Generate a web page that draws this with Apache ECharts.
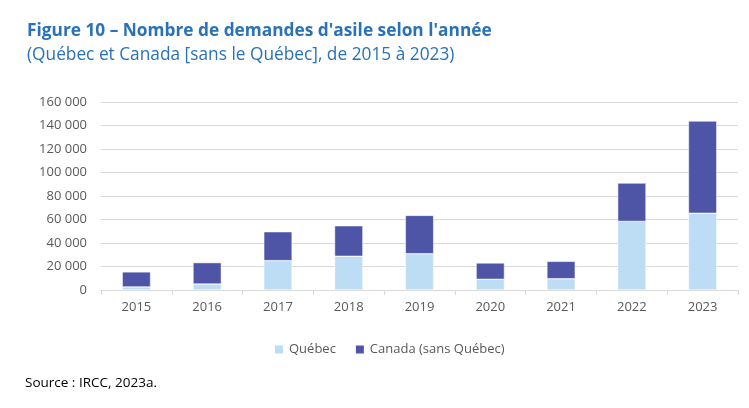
<!DOCTYPE html>
<html><head><meta charset="utf-8">
<script src="https://cdn.jsdelivr.net/npm/echarts@6/dist/echarts.min.js"></script>
<style>html,body{margin:0;padding:0;background:#fff;}#c{width:749px;height:408px;}</style>
</head><body><div id="c"></div>
<script>
const categories = ['2015','2016','2017','2018','2019','2020','2021','2022','2023'];
const quebec = [2600, 5100, 25000, 28700, 30900, 9100, 9600, 58400, 65300];
const canadaSansQuebec = [12800, 18200, 24600, 26000, 32600, 13900, 14800, 32600, 78500];
const yTicks = [0, 20000, 40000, 60000, 80000, 100000, 120000, 140000, 160000];

const fmt = v => String(v).replace(/\B(?=(\d{3})+(?!\d))/g, ' ');
const chart = echarts.init(document.getElementById('c'));
chart.setOption({
  animation: false,
  textStyle: { fontFamily: 'Open Sans' },
  title: [
    { text: "Figure 10 – Nombre de demandes d'asile selon l'année", left: 22, top: 18,
      textStyle: { fontFamily: 'Open Sans', fontSize: 17.3, fontWeight: 'bold', color: '#2A72B8' } },
    { text: "(Québec et Canada [sans le Québec], de 2015 à 2023)", left: 22, top: 42,
      textStyle: { fontFamily: 'Open Sans', fontSize: 17.3, fontWeight: 'normal', color: '#2A72B8' } },
    { text: "Source : IRCC, 2023a.", left: 20, top: 371,
      textStyle: { fontFamily: 'Open Sans', fontSize: 13.5, fontWeight: 'normal', color: '#000' } }
  ],
  legend: {
    left: 268, top: 338, itemWidth: 10, itemHeight: 10, itemGap: 18, icon: 'rect',
    textStyle: { fontFamily: 'Open Sans', fontSize: 13, color: '#595959' },
    data: ['Québec', 'Canada (sans Québec)']
  },
  grid: { left: 101, right: 11, top: 102, bottom: 118 },
  xAxis: {
    type: 'category', data: categories,
    axisLine: { lineStyle: { color: '#D9D9D9', width: 1 } },
    axisTick: { show: true, length: 5, lineStyle: { color: '#D9D9D9' } },
    axisLabel: { color: '#595959', fontSize: 13, margin: 11 }
  },
  yAxis: {
    type: 'value', min: 0, max: 160000, interval: 20000,
    axisLine: { show: false }, axisTick: { show: false },
    splitLine: { lineStyle: { color: '#D9D9D9', width: 1 } },
    axisLabel: { color: '#595959', fontSize: 13, margin: 14, formatter: v => fmt(v) }
  },
  series: [
    { name: 'Québec', type: 'bar', stack: 't', data: quebec, barWidth: '40%',
      itemStyle: { color: '#BDDDF5', borderColor: '#fff', borderWidth: 0.5 } },
    { name: 'Canada (sans Québec)', type: 'bar', stack: 't', data: canadaSansQuebec, barWidth: '40%',
      itemStyle: { color: '#4F55A6', borderColor: '#fff', borderWidth: 0.5 } }
  ]
});
</script></body></html>
